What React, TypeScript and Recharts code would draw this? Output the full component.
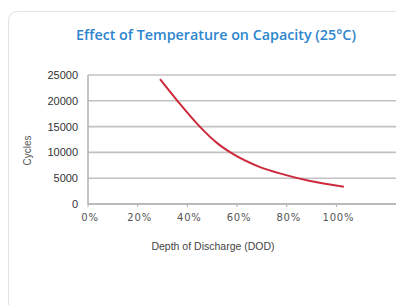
import { LineChart, Line, XAxis, YAxis, CartesianGrid } from 'recharts';

const dod = [29, 36, 45, 52, 58, 69, 79, 89, 103];
const cycles = [24200, 20000, 15000, 11800, 9800, 7200, 5700, 4500, 3350];
const xTicks = [0, 20, 40, 60, 80, 100];
const yTicks = [0, 5000, 10000, 15000, 20000, 25000];

const data = dod.map((d, i) => ({ dod: d, cycles: cycles[i] }));

export default function App() {
  return (
    <div style={{ position: 'absolute', left: 0, top: 0, width: 396, height: 305, overflow: 'hidden', background: '#fff' }}>
      <div
        style={{
          position: 'absolute',
          left: 8,
          top: 11,
          width: 420,
          height: 320,
          border: '1px solid #e2e2e2',
          borderRadius: 9,
          boxSizing: 'border-box',
        }}
      />
      <div
        style={{
          position: 'absolute',
          left: 0,
          top: 25,
          width: 432,
          textAlign: 'center',
          fontFamily: '"Open Sans", sans-serif',
          fontWeight: 600,
          fontSize: 14.3,
          color: '#2d86cd',
          lineHeight: '20px',
        }}
      >
        Effect of Temperature on Capacity (25°C)
      </div>
      <div style={{ position: 'absolute', left: 0, top: 60 }}>
        <LineChart width={396} height={200} data={data} margin={{ top: 15, right: 0, bottom: 0, left: 0 }}>
          <CartesianGrid vertical={false} stroke="#c2c2c2" strokeWidth={1.6} />
          <XAxis
            dataKey="dod"
            type="number"
            domain={[0, 124]}
            ticks={xTicks}
            tickFormatter={(v) => `${v}%`}
            height={56}
            axisLine={{ stroke: '#b0b0b0', strokeWidth: 1.5 }}
            tickLine={{ stroke: '#b0b0b0' }}
            tickSize={3}
            tick={{ fill: '#555', fontSize: 10, fontFamily: '"DejaVu Sans", sans-serif', letterSpacing: 0.8, dx: 2, dy: 5 }}
            label={{
              value: 'Depth of Discharge (DOD)',
              position: 'insideBottom',
              offset: 10,
              dx: -29,
              fill: '#444',
              fontSize: 10.5,
              fontFamily: '"Liberation Sans", Arial, sans-serif',
            }}
          />
          <YAxis
            type="number"
            domain={[0, 25000]}
            ticks={yTicks}
            width={88}
            axisLine={{ stroke: '#b0b0b0', strokeWidth: 1.5 }}
            tickLine={false}
            tickMargin={4}
            tick={{ fill: '#333', fontSize: 11, fontFamily: '"Liberation Sans", Arial, sans-serif' }}
            label={{
              value: 'Cycles',
              angle: -90,
              position: 'insideLeft',
              offset: 27,
              dy: 26,
              fill: '#555',
              fontSize: 10,
              fontFamily: '"Liberation Sans", Arial, sans-serif',
            }}
          />
          <Line
            type="monotone"
            dataKey="cycles"
            stroke="#cc2a3d"
            strokeWidth={2}
            dot={false}
            isAnimationActive={false}
          />
        </LineChart>
      </div>
    </div>
  );
}
